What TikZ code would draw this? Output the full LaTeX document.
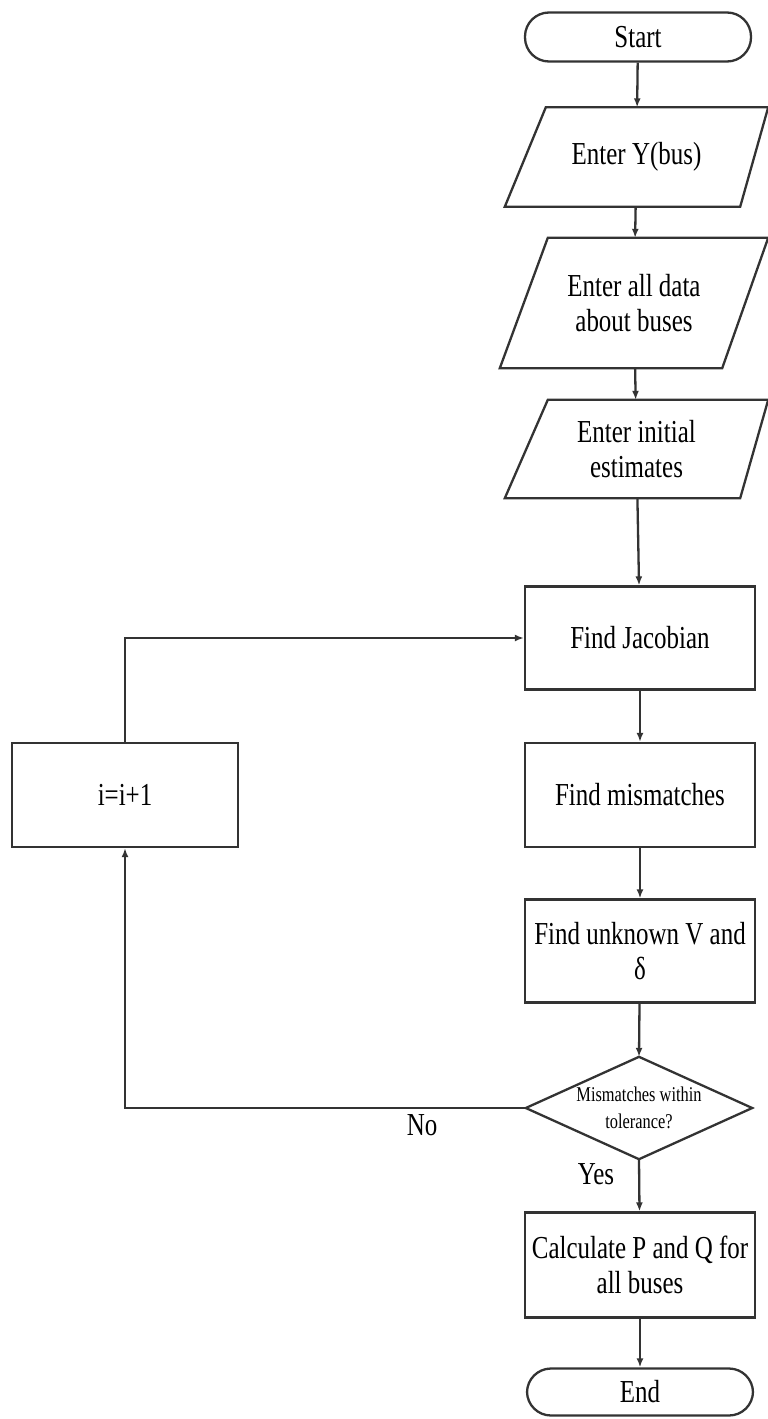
\documentclass[tikz,border=0pt]{standalone}
\usepackage{fontspec}
\setmainfont{Liberation Serif}[FakeStretch=0.78]
\usetikzlibrary{arrows.meta}
\begin{document}
\begin{tikzpicture}[x=1pt,y=-1pt,
 line/.style={draw=black!80,line width=2.3pt},
 arr/.style={line,-{Latex[length=9pt,width=7pt]}},
 txt/.style={font=\fontsize{32}{35}\selectfont, align=center},
 proc/.style={line, txt, rectangle, minimum width=230pt, minimum height=104pt, inner sep=2pt},
 term/.style={line, txt, rectangle, rounded corners=24pt, minimum width=226pt, minimum height=49pt, inner sep=0pt},
 io/.style={txt, rectangle, inner sep=0pt},
 lab/.style={font=\fontsize{32}{35}\selectfont}]
\useasboundingbox (0,0) rectangle (768,1419);
\node[term] (start) at (638,37) {Start};
\node[io, minimum width=263pt, minimum height=99pt] (ybus) at (636.5,157) {Enter Y(bus)};
\node[io, minimum width=268pt, minimum height=130pt] (data) at (634,303) {Enter all data\\about buses};
\node[io, minimum width=263pt, minimum height=98pt] (est) at (636.5,449) {Enter initial\\estimates};
\draw[line] ([xshift=41pt]ybus.north west) -- (ybus.north east) -- ([xshift=-28pt]ybus.south east) -- (ybus.south west) -- cycle;
\draw[line] ([xshift=48pt]data.north west) -- (data.north east) -- ([xshift=-46pt]data.south east) -- (data.south west) -- cycle;
\draw[line] ([xshift=43pt]est.north west) -- (est.north east) -- ([xshift=-28pt]est.south east) -- (est.south west) -- cycle;
\node[proc, minimum height=103pt] (jac) at (640,638) {Find Jacobian};
\node[proc] (mis) at (640,795) {Find mismatches};
\node[proc, minimum height=103pt] (unk) at (640,951) {Find unknown V and\\δ};
\node[txt, font=\fontsize{21}{27}\selectfont, minimum width=226pt, minimum height=102pt, inner sep=0pt] (dec) at (639,1108) {Mismatches within\\tolerance?};
\draw[line] (dec.north) -- (dec.east) -- (dec.south) -- (dec.west) -- cycle;
\node[proc, minimum height=105pt] (calc) at (640,1265) {Calculate P and Q for\\all buses};
\node[term, minimum height=47pt] (end) at (640,1392) {End};
\node[proc, minimum width=226pt] (inc) at (125,795) {i=i+1};
\draw[arr] (start) -- (ybus);
\draw[arr] (ybus) -- (data);
\draw[arr] (data) -- (est);
\draw[arr] (est) -- (jac);
\draw[arr] (jac) -- (mis);
\draw[arr] (mis) -- (unk);
\draw[arr] (unk) -- (dec.north);
\draw[arr] (dec.south) -- (calc);
\draw[arr] (calc) -- (end);
\draw[arr] (dec.west) -| (inc.south);
\draw[arr] (inc.north) |- (jac.west);
\node[lab] (no) at (422,1125) {No};
\node[lab] (yes) at (596,1174) {Yes};
\end{tikzpicture}
\end{document}
